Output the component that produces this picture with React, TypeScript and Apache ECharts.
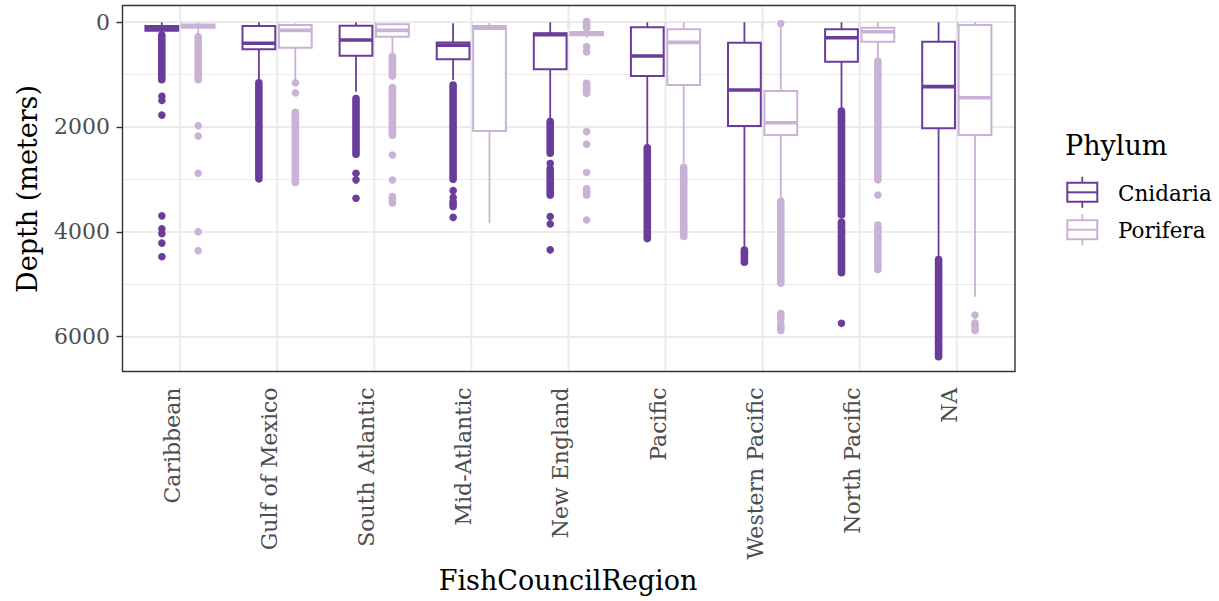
import React, { useEffect, useRef } from "react";
import * as echarts from "echarts";

// ---- data -------------------------------------------------------------
const regions = [
  "Caribbean",
  "Gulf of Mexico",
  "South Atlantic",
  "Mid-Atlantic",
  "New England",
  "Pacific",
  "Western Pacific",
  "North Pacific",
  "NA",
];
const phyla = ["Cnidaria", "Porifera"];
const phylumColors = ["#6a3d9a", "#cab2d6"];
const depthTicks = [0, 2000, 4000, 6000];

// box stats per region: [shallow whisker, Q1, median, Q3, deep whisker] (m)
const cnidariaBoxes = [
  [5, 75, 120, 165, 230],
  [5, 76, 406, 520, 1110],
  [5, 70, 343, 642, 1329],
  [25, 390, 440, 711, 1106],
  [5, 216, 241, 902, 1836],
  [5, 102, 648, 1030, 2345],
  [5, 394, 1297, 1983, 4284],
  [5, 140, 299, 757, 1646],
  [5, 375, 1233, 2027, 4474],
];
const poriferaBoxes = [
  [10, 50, 80, 110, 260],
  [25, 57, 160, 490, 1106],
  [15, 44, 160, 280, 597],
  [15, 76, 120, 2078, 3838],
  [150, 190, 225, 255, 300],
  [5, 140, 388, 1201, 2694],
  [90, 1316, 1920, 2154, 3361],
  [5, 108, 185, 375, 693],
  [5, 57, 1443, 2154, 5237],
];

// outliers per region: [from, to] depth spans of overlapping points (from === to is a single point)
const cnidariaOutliers = [
  [[250, 1100], [1400, 1400], [1480, 1480], [1760, 1760], [3680, 3680], [3930, 3930], [4020, 4020], [4200, 4200], [4460, 4460]],
  [[1160, 2990]],
  [[1460, 2520], [2885, 2885], [3010, 3010], [3360, 3360]],
  [[1200, 3000], [3200, 3200], [3330, 3330], [3430, 3520], [3710, 3710]],
  [[1900, 2500], [2683, 2683], [2800, 3300], [3700, 3700], [3840, 3840], [4334, 4334]],
  [[2400, 4130]],
  [[4350, 4580]],
  [[1700, 3680], [3820, 4780], [5745, 5745]],
  [[4530, 6380]],
];
const poriferaOutliers = [
  [[280, 1100], [1977, 1977], [2173, 2173], [2885, 2885], [3998, 3998], [4360, 4360]],
  [[1140, 1140], [1330, 1330], [1720, 3060]],
  [[660, 1030], [1250, 2160], [2536, 2536], [3012, 3012], [3330, 3450]],
  [],
  [[-10, 110], [470, 470], [570, 570], [1170, 1360], [2090, 2090], [2330, 2330], [2870, 2870], [3180, 3300], [3775, 3775]],
  [[2770, 4090]],
  [[30, 30], [3420, 4980], [5560, 5660], [5760, 5880]],
  [[750, 3010], [3298, 3298], [3870, 4720]],
  [[5586, 5586], [5740, 5880]],
];

// ---- layout -----------------------------------------------------------
const W = 1219;
const H = 601;
const FONT = "DejaVu Serif";
const PANEL = { left: 122.5, top: 5.5, right: 1015, bottom: 371.5 };
const Y_TOP = 22; // pixel row of depth 0
const Y_BOTTOM = 336.7; // pixel row of depth 6000
const BAND = 97.1;
const FIRST_CENTER = 180;
const DODGE = 0.1875; // half of the dodge width, in bands
const BOX_W = 0.3375; // box width, in bands
const DOT_R = 3.8;

const boxData: number[][] = [];
[cnidariaBoxes, poriferaBoxes].forEach((boxes, p) =>
  boxes.forEach((b, i) => boxData.push([i, p, ...b]))
);
const outlierData: number[][] = [];
[cnidariaOutliers, poriferaOutliers].forEach((sets, p) =>
  sets.forEach((runs, i) => runs.forEach((r) => outlierData.push([i, p, r[0], r[1]])))
);

function groupX(api: any, cat: number, p: number) {
  const band = api.size([1, 0])[0];
  return api.coord([cat, 0])[0] + (p === 0 ? -1 : 1) * band * DODGE;
}

export default function App() {
  const ref = useRef<HTMLDivElement>(null);

  useEffect(() => {
    if (!ref.current) return;
    const chart = echarts.init(ref.current, null, { renderer: "svg" });

    const innerLeft = FIRST_CENTER - BAND / 2;
    const innerRight = innerLeft + BAND * regions.length;

    const legendItems: any[] = [
      {
        type: "text",
        x: 1065,
        y: 145,
        style: { text: "Phylum", font: `27px "${FONT}"`, fill: "#000", textAlign: "left", textVerticalAlign: "middle" },
      },
    ];
    phyla.forEach((name, i) => {
      const cy = 192.3 + i * 37.4;
      const color = phylumColors[i];
      legendItems.push(
        { type: "line", shape: { x1: 1082.3, y1: cy - 15.5, x2: 1082.3, y2: cy + 15.5 }, style: { stroke: color, lineWidth: 1.8 } },
        { type: "rect", shape: { x: 1067.3, y: cy - 9.5, width: 30, height: 19 }, style: { fill: "#fff", stroke: color, lineWidth: 2 } },
        { type: "line", shape: { x1: 1067.3, y1: cy, x2: 1097.3, y2: cy }, style: { stroke: color, lineWidth: 2 } },
        {
          type: "text",
          x: 1118,
          y: cy + 1,
          style: { text: name, font: `21.5px "${FONT}"`, fill: "#000", textAlign: "left", textVerticalAlign: "middle" },
        }
      );
    });

    chart.setOption({
      animation: false,
      backgroundColor: "#ffffff",
      grid: [
        { left: PANEL.left, right: W - PANEL.right, top: Y_TOP, bottom: H - Y_BOTTOM },
        { left: innerLeft, right: W - innerRight, top: Y_TOP, bottom: H - Y_BOTTOM },
      ],
      xAxis: [
        { type: "value", gridIndex: 0, min: 0, max: 1, show: false },
        {
          type: "category",
          gridIndex: 1,
          data: regions,
          boundaryGap: true,
          offset: PANEL.bottom - Y_BOTTOM,
          axisLine: { show: false },
          axisTick: { show: true, alignWithLabel: true, length: 6, lineStyle: { color: "#333333", width: 1.4 } },
          axisLabel: {
            rotate: 90,
            margin: 16,
            interval: 0,
            color: "#4d4d4d",
            fontSize: 22,
            fontFamily: FONT,
            verticalAlign: "bottom",
            lineHeight: 15,
          },
          splitLine: { show: false },
        },
      ],
      yAxis: [
        {
          type: "value",
          gridIndex: 0,
          inverse: true,
          min: depthTicks[0],
          max: depthTicks[depthTicks.length - 1],
          interval: 2000,
          axisLine: { show: false },
          axisTick: { show: true, length: 6, lineStyle: { color: "#333333", width: 1.4 } },
          axisLabel: {
            margin: 12.5,
            color: "#4d4d4d",
            fontSize: 22,
            fontFamily: FONT,
            formatter: (v: number) => String(v),
          },
          splitLine: { show: true, lineStyle: { color: "#ebebeb", width: 2 } },
          minorTick: { show: false, splitNumber: 2 },
          minorSplitLine: { show: true, lineStyle: { color: "#ebebeb", width: 1.1 } },
        },
        {
          type: "value",
          gridIndex: 1,
          inverse: true,
          min: depthTicks[0],
          max: depthTicks[depthTicks.length - 1],
          show: false,
          splitLine: { show: false },
        },
      ],
      series: [
        {
          // vertical grid lines through the region centres
          type: "custom",
          xAxisIndex: 1,
          yAxisIndex: 1,
          z: 1,
          silent: true,
          data: regions.map((_, i) => [i, 0]),
          renderItem: (_p: any, api: any) => {
            const x = api.coord([api.value(0), 0])[0];
            return {
              type: "line",
              shape: { x1: x, y1: PANEL.top, x2: x, y2: PANEL.bottom },
              style: { stroke: "#ebebeb", lineWidth: 2 },
            };
          },
        },
        {
          type: "custom",
          name: "outliers",
          xAxisIndex: 1,
          yAxisIndex: 1,
          z: 2,
          silent: true,
          data: outlierData,
          renderItem: (_p: any, api: any) => {
            const cat = api.value(0);
            const p = api.value(1);
            const x = groupX(api, cat, p);
            const y1 = api.coord([cat, api.value(2)])[1];
            const y2 = api.coord([cat, api.value(3)])[1];
            const color = phylumColors[p];
            if (Math.abs(y2 - y1) < 0.5) {
              return { type: "circle", shape: { cx: x, cy: y1, r: DOT_R }, style: { fill: color } };
            }
            return {
              type: "line",
              shape: { x1: x, y1, x2: x, y2 },
              style: { stroke: color, lineWidth: DOT_R * 2, lineCap: "round" },
            };
          },
        },
        {
          type: "custom",
          name: "boxes",
          xAxisIndex: 1,
          yAxisIndex: 1,
          z: 3,
          silent: true,
          data: boxData,
          renderItem: (_p: any, api: any) => {
            const cat = api.value(0);
            const p = api.value(1);
            const band = api.size([1, 0])[0];
            const x = groupX(api, cat, p);
            const half = (band * BOX_W) / 2;
            const y = (k: number) => api.coord([cat, api.value(k)])[1];
            const color = phylumColors[p];
            return {
              type: "group",
              children: [
                { type: "line", shape: { x1: x, y1: y(2), x2: x, y2: y(3) }, style: { stroke: color, lineWidth: 1.8 } },
                { type: "line", shape: { x1: x, y1: y(5), x2: x, y2: y(6) }, style: { stroke: color, lineWidth: 1.8 } },
                {
                  type: "rect",
                  shape: { x: x - half, y: y(3), width: half * 2, height: y(5) - y(3) },
                  style: { fill: "#ffffff", stroke: color, lineWidth: 2 },
                },
                { type: "line", shape: { x1: x - half, y1: y(4), x2: x + half, y2: y(4) }, style: { stroke: color, lineWidth: 3.6 } },
              ],
            };
          },
        },
      ],
      graphic: [
        {
          type: "rect",
          z: 100,
          silent: true,
          shape: { x: PANEL.left, y: PANEL.top, width: PANEL.right - PANEL.left, height: PANEL.bottom - PANEL.top },
          style: { fill: "none", stroke: "#333333", lineWidth: 1.4 },
        },
        {
          type: "text",
          x: 27,
          y: 189,
          rotation: Math.PI / 2,
          style: { text: "Depth (meters)", font: `27px "${FONT}"`, fill: "#000", textAlign: "center", textVerticalAlign: "middle" },
        },
        {
          type: "text",
          x: 568,
          y: 580,
          style: { text: "FishCouncilRegion", font: `27px "${FONT}"`, fill: "#000", textAlign: "center", textVerticalAlign: "middle" },
        },
        ...legendItems,
      ],
    });

    return () => chart.dispose();
  }, []);

  return <div ref={ref} style={{ position: "fixed", left: 0, top: 0, width: W, height: H, background: "#fff" }} />;
}
